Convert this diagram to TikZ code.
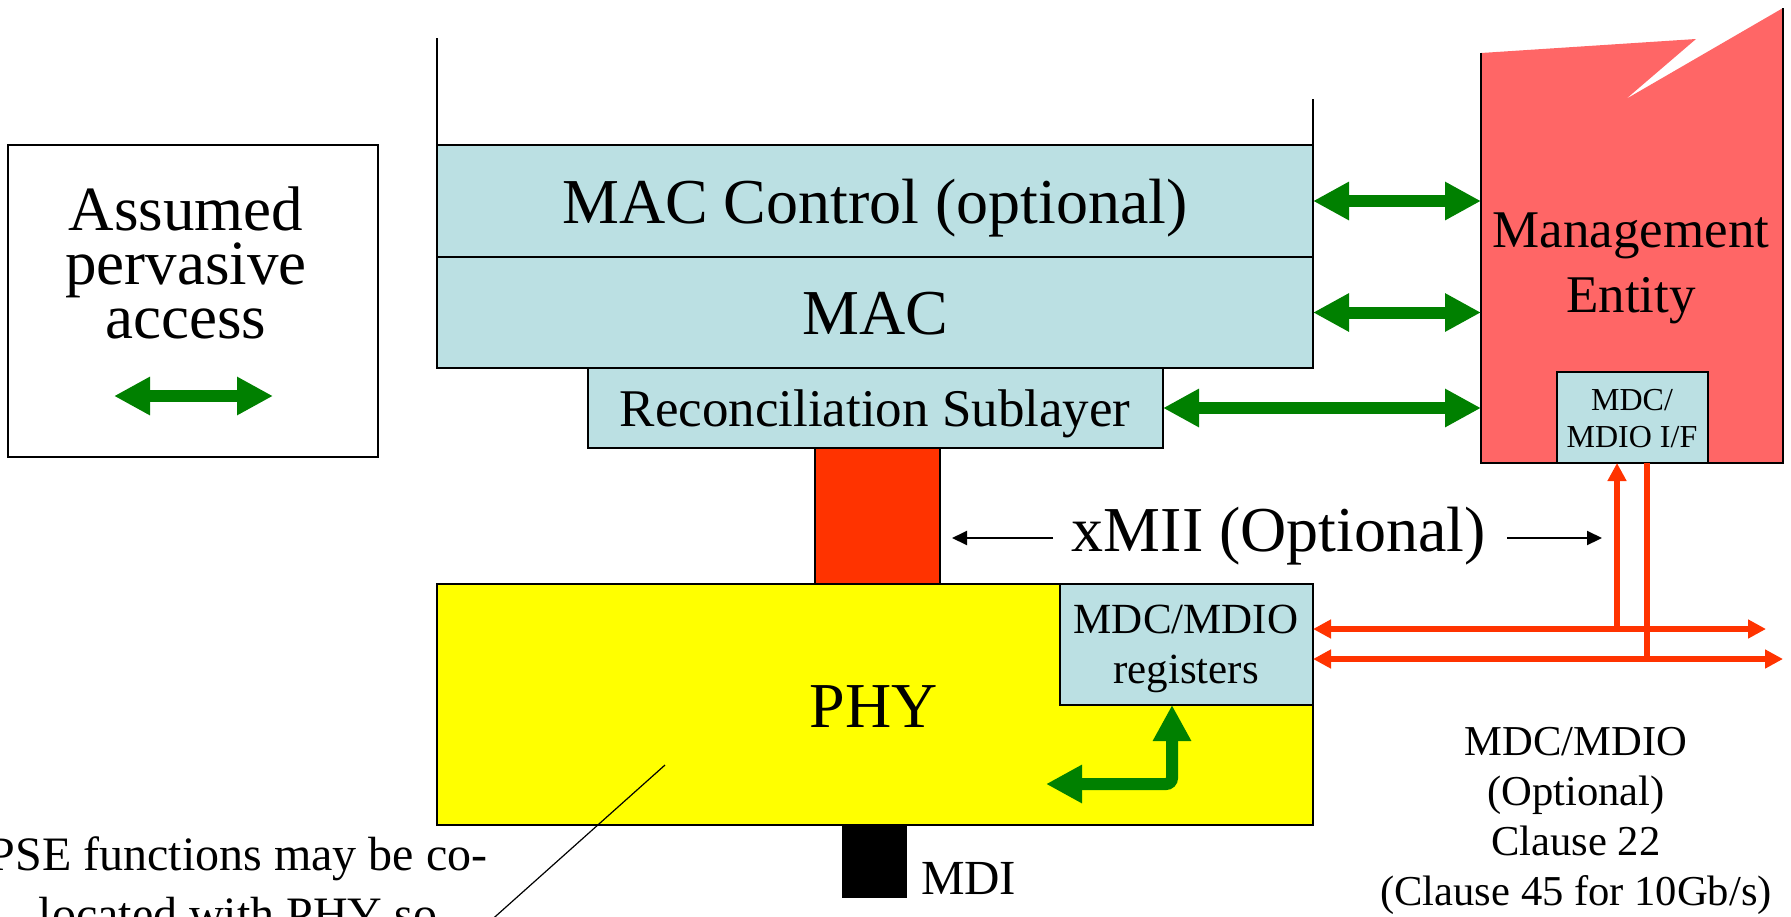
\documentclass[tikz,border=0pt]{standalone}
\usepackage{fontspec}
\setmainfont{Liberation Serif}
\usetikzlibrary{arrows.meta}
\definecolor{boxblue}{HTML}{BBE0E3}
\definecolor{mgmtred}{HTML}{FF6666}
\definecolor{xmiired}{HTML}{FF3300}
\definecolor{bgreen}{HTML}{008000}
\definecolor{phyyellow}{HTML}{FFFF00}
\definecolor{busorange}{HTML}{FF3300}
\begin{document}
\begin{tikzpicture}[x=0.5pt,y=-0.5pt,
  box/.style={draw=black,line width=1pt,inner sep=0pt,outer sep=0pt,anchor=north west},
  lbl/.style={inner sep=0pt,outer sep=0pt,anchor=base,align=center},
  garrow/.style={draw=bgreen,line width=6pt,
     arrows={Triangle[length=18pt 0 0,width=18pt 0 0]-Triangle[length=18pt 0 0,width=18pt 0 0]}},
  obus/.style={draw=busorange,line width=2.75pt},
  otip/.style={arrows={-Triangle[length=9pt 0 0,width=9pt 0 0]}},
  otips/.style={arrows={Triangle[length=9pt 0 0,width=9pt 0 0]-Triangle[length=9pt 0 0,width=9pt 0 0]}},
  xarr/.style={draw=black,line width=1pt,arrows={-Triangle[length=7.5pt 0 0,width=7pt 0 0]}},
  thinline/.style={draw=black,line width=1pt}
]
\useasboundingbox (0,0) rectangle (1791,916);
\clip (0,0) rectangle (1791,916);

% legend box
\node[box,minimum width=185pt,minimum height=156pt] (legend) at (8,145) {};
\node[lbl,font=\fontsize{31.5pt}{27pt}\selectfont] (legendtxt) at (186,338) {Assumed\\pervasive\\access};
\coordinate (legA) at (114,396);
\coordinate (legB) at (273,396);
\draw[garrow] (legA) -- (legB);

% stack
\node[box,fill=boxblue,minimum width=438pt,minimum height=56pt] (macctl) at (437,145) {};
\node[box,fill=boxblue,minimum width=438pt,minimum height=55.5pt] (mac) at (437,257) {};
\node[box,fill=boxblue,minimum width=287.5pt,minimum height=40pt] (rs) at (588,368) {};
\node[box,fill=xmiired,minimum width=62.5pt,minimum height=68pt] (xmii) at (815,448) {};
\node[box,fill=phyyellow,minimum width=438pt,minimum height=120.5pt] (phy) at (437,584) {};
\node[box,fill=boxblue,minimum width=126.5pt,minimum height=60.5pt] (regs) at (1060,584) {};
\node[box,fill=black,minimum width=31.5pt,minimum height=36pt] (mdi) at (843,825) {};

\coordinate (topL) at (437,38);
\coordinate (topR) at (1313,99);
\draw[thinline] (macctl.north west) -- (topL);
\draw[thinline] (macctl.north east) -- (topR);

\node[lbl,font=\fontsize{32pt}{38pt}\selectfont] (macctltxt) at (875,223) {MAC Control (optional)};
\node[lbl,font=\fontsize{32pt}{38pt}\selectfont] (mactxt) at (875,334) {MAC};
\node[lbl,font=\fontsize{26.5pt}{32pt}\selectfont] (rstxt) at (875,426) {Reconciliation Sublayer};
\node[lbl,font=\fontsize{32pt}{38pt}\selectfont] (phytxt) at (874,727) {PHY};
\node[lbl,font=\fontsize{21.5pt}{25pt}\selectfont] (regstxt) at (1186,683) {MDC/MDIO\\registers};
\node[lbl,font=\fontsize{24.5pt}{29pt}\selectfont,anchor=base west] (mditxt) at (921,894) {MDI};

% management entity
\node[inner sep=0pt,outer sep=0pt,minimum width=151pt,minimum height=205pt,anchor=north west] (mgmt) at (1481,53) {};
\fill[mgmtred] (1481,53) -- (1696,39) -- (1626,99) -- (1783,8) -- (1783,463) -- (1481,463) -- cycle;
\draw[line width=1pt] (mgmt.north west) -- (mgmt.south west) -- (mgmt.south east) -- (1783,8);
\node[lbl,font=\fontsize{26.5pt}{32.5pt}\selectfont] (mgmttxt) at (1631,312) {Management\\Entity};
\node[box,fill=boxblue,minimum width=75.5pt,minimum height=45.5pt] (mdioif) at (1557,372) {};
\node[lbl,font=\fontsize{16pt}{18.5pt}\selectfont] (mdioiftxt) at (1632,447) {MDC/\\MDIO I/F};

% green arrows to management
\draw[garrow] (macctl.east) -- (macctl.east -| mgmt.west);
\draw[garrow] (mac.east) -- (mac.east -| mgmt.west);
\draw[garrow] (rs.east) -- (rs.east -| mgmt.west);

% internal PHY arrow
\coordinate (lstart) at (1046,784);
\coordinate (lcorner) at (1172,784);
\draw[garrow,rounded corners=3pt] (lstart) -- (lcorner) -- (lcorner |- regs.south);

% xMII label and arrows
\node[lbl,font=\fontsize{32pt}{38pt}\selectfont] (xmiitxt) at (1279,551) {xMII (Optional)};
\coordinate (xa1) at (1053,538);
\coordinate (xa2) at (952,538);
\coordinate (xb1) at (1507,538);
\coordinate (xb2) at (1602,538);
\draw[xarr] (xa1) -- (xa2);
\draw[xarr] (xb1) -- (xb2);

% MDC/MDIO bus
\coordinate (busA) at (1766,629);
\coordinate (busB) at (1783,659);
\coordinate (upx) at (1617,629);
\coordinate (dnx) at (1647,659);
\draw[obus,otips] (regs.east |- busA) -- (busA);
\draw[obus,otips] (regs.east |- busB) -- (busB);
\draw[obus,otip] (upx) -- (upx |- mdioif.south);
\draw[obus] (dnx |- mdioif.south) -- (dnx);

\node[lbl,font=\fontsize{21.3pt}{25pt}\selectfont] (bustxt) at (1576,905) {MDC/MDIO\\(Optional)\\Clause 22\\(Clause 45 for 10Gb/s)};

% PSE callout
\node[lbl,font=\fontsize{24pt}{30pt}\selectfont] (psetxt) at (238,930) {PSE functions may be co-\\located with PHY so};
\coordinate (callA) at (665,765);
\coordinate (callB) at (478,932);
\draw[black,line width=0.6pt] (callA) -- (callB);
\end{tikzpicture}
\end{document}
